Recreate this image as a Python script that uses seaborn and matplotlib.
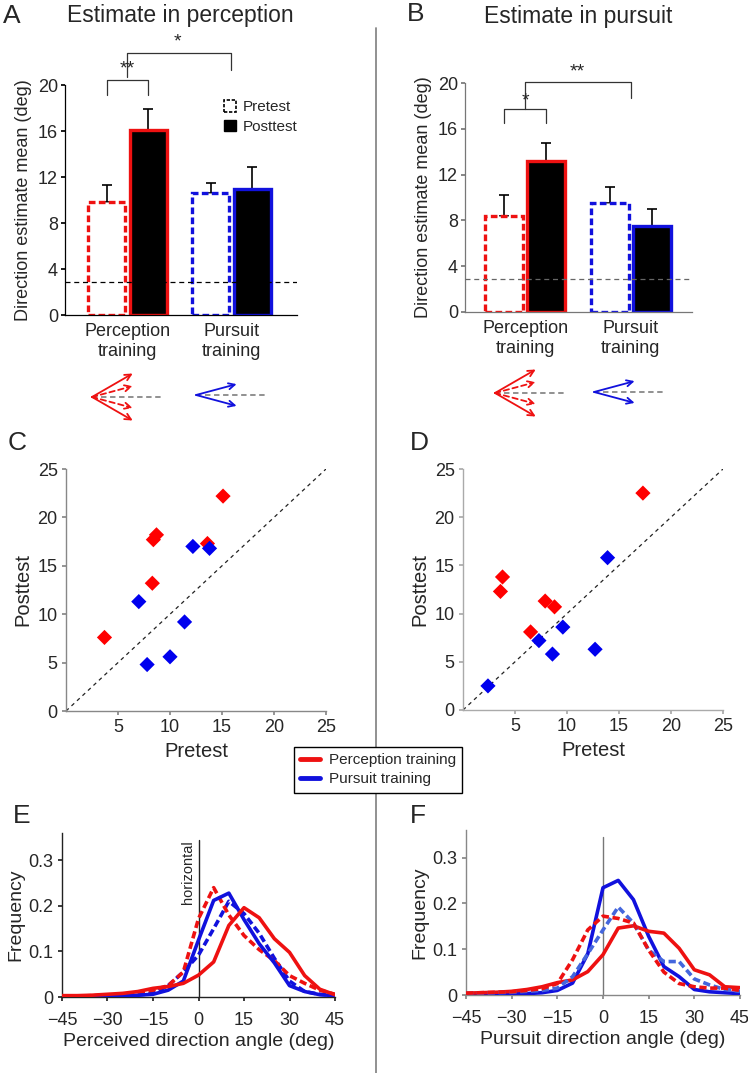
import numpy as np
import pandas as pd
import matplotlib
matplotlib.use("Agg")
import matplotlib.pyplot as plt
import seaborn as sns
from matplotlib.patches import Patch
from matplotlib.lines import Line2D

# Bar data (A: estimate in perception, B: estimate in pursuit)
trainings = ["Perception\ntraining", "Pursuit\ntraining"]
tests = ["Pretest", "Posttest"]
a_pre = [9.8, 10.6]
a_post = [16.1, 11.0]
a_pre_err = [1.5, 0.9]
a_post_err = [1.8, 1.9]
b_pre = [8.4, 9.5]
b_post = [13.2, 7.5]
b_pre_err = [1.8, 1.4]
b_post_err = [1.6, 1.5]
chance_level = 2.9

# Scatter data (C, D): pretest vs posttest per subject
c_perc_pre = [3.7, 8.3, 8.4, 8.7, 13.6, 15.1]
c_perc_post = [7.6, 13.2, 17.7, 18.2, 17.3, 22.2]
c_purs_pre = [7.0, 7.8, 10.0, 11.4, 12.2, 13.8]
c_purs_post = [11.3, 4.8, 5.6, 9.2, 17.0, 16.8]
d_perc_pre = [3.6, 3.8, 6.5, 7.9, 8.8, 17.3]
d_perc_post = [12.3, 13.8, 8.1, 11.3, 10.7, 22.5]
d_purs_pre = [2.4, 7.3, 8.6, 9.6, 12.7, 13.9]
d_purs_post = [2.5, 7.2, 5.8, 8.6, 6.3, 15.8]

# Distributions (E, F)
angles = list(range(-45, 50, 5))
e_perc_post = [.003, .003, .004, .006, .008, .012, .019, .023, .030, .048, .077, .157, .196, .174, .128, .098, .047, .017, .005]
e_perc_pre = [.002, .002, .003, .004, .006, .010, .015, .025, .055, .172, .240, .180, .135, .104, .080, .047, .030, .015, .006]
e_purs_post = [.002, .002, .002, .003, .003, .004, .006, .015, .035, .125, .212, .228, .170, .117, .075, .025, .012, .005, .003]
e_purs_pre = [.001, .001, .002, .002, .003, .004, .008, .025, .055, .092, .150, .210, .183, .140, .085, .035, .012, .006, .003]
f_perc_post = [.004, .005, .006, .008, .012, .018, .027, .033, .051, .088, .146, .151, .139, .135, .102, .055, .044, .018, .016]
f_perc_pre = [.004, .005, .006, .007, .010, .014, .025, .077, .142, .172, .167, .157, .098, .050, .025, .018, .015, .015, .010]
f_purs_post = [.002, .002, .002, .003, .003, .005, .010, .026, .090, .234, .250, .208, .128, .062, .040, .012, .007, .005, .003]
f_purs_pre = [.003, .004, .005, .006, .008, .010, .015, .040, .090, .142, .192, .157, .098, .073, .073, .035, .022, .012, .008]

# training-direction icons: arrow angles (deg)
perc_solid_angles = [30, -30]
perc_dashed_angles = [15, -15]
purs_angles = [15, -15]

RED = "#ee1111"
BLUE = "#1111dd"
LIGHTBLUE = "#4466dd"

sns.set_theme(style="white")
plt.rcParams["font.family"] = ["Liberation Sans", "DejaVu Sans"]
plt.rcParams["axes.unicode_minus"] = True

W, H = 748, 1073
fig = plt.figure(figsize=(W / 100, H / 100), dpi=100)


def box(l, t, r, b):
    return [l / W, 1 - b / H, (r - l) / W, (b - t) / H]


def bar_panel(ax, pre, post, pre_err, post_err, spine_col, dash_col):
    df = pd.DataFrame({
        "training": trainings * 2,
        "test": ["Pretest"] * 2 + ["Posttest"] * 2,
        "value": pre + post,
    })
    sns.barplot(data=df, x="training", y="value", hue="test", hue_order=tests,
                width=0.8, gap=0.1, errorbar=None, legend=False, ax=ax)
    errs = [pre_err, post_err]
    centers = {}
    bar_sets = list(ax.containers)[:2]
    for k, cont in enumerate(bar_sets):
        for i, bar in enumerate(cont):
            col = RED if i == 0 else BLUE
            if k == 0:
                bar.set_facecolor("white")
                bar.set_linestyle((0, (2, 1)))
            else:
                bar.set_facecolor("black")
            bar.set_edgecolor(col)
            bar.set_linewidth(2.4)
            bar.set_zorder(2)
            xc = bar.get_x() + bar.get_width() / 2
            h = bar.get_height()
            centers[(i, k)] = xc
            ax.errorbar([xc], [h], yerr=[[0], [errs[k][i]]], fmt="none",
                        ecolor="black", elinewidth=1.2, capsize=3.5,
                        capthick=1.2, zorder=1)
    ax.axhline(chance_level, color=dash_col, lw=0.9, ls=(0, (4, 3)), zorder=3)
    ax.set_ylim(0, 20)
    ax.set_yticks([0, 4, 8, 12, 16, 20])
    ax.set_xlabel("")
    ax.set_ylabel("Direction estimate mean (deg)", fontsize=13)
    ax.tick_params(axis="y", labelsize=13, length=3, left=True, color=spine_col, pad=2)
    ax.tick_params(axis="x", labelsize=13, length=0, pad=6)
    for s in ["top", "right"]:
        ax.spines[s].set_visible(False)
    for s in ["left", "bottom"]:
        ax.spines[s].set_color(spine_col)
        ax.spines[s].set_linewidth(0.9)
    return centers


def bracket(ax, x0, x1, ytop, yl, yr, text, ty, tx=None):
    ax.plot([x0, x0, x1, x1], [yl, ytop, ytop, yr], color="#333333", lw=0.9,
            clip_on=False)
    ax.text((x0 + x1) / 2 if tx is None else tx, ty, text, ha="center",
            va="center", fontsize=14, clip_on=False)


# ---- A ----
axA = fig.add_axes(box(65, 85, 297, 315))
cA = bar_panel(axA, a_pre, a_post, a_pre_err, a_post_err, "black", "black")
axA.set_xlim(-0.6, 1.63)
bracket(axA, cA[(0, 0)], cA[(0, 1)], 20.4, 19.1, 19.1, "**", 21.4)
bracket(axA, 0.0, 1.0, 22.8, 20.7, 21.3, "*", 23.7, tx=0.48)
axA.legend(handles=[Patch(facecolor="white", edgecolor="black", linestyle=(0, (2, 1)), lw=1.2),
                    Patch(facecolor="black", edgecolor="black")],
           labels=tests, loc="upper left", bbox_to_anchor=(0.66, 0.96),
           frameon=False, fontsize=11, handlelength=0.8, handleheight=0.8,
           handletextpad=0.4, labelspacing=0.35, borderaxespad=0)

# ---- B ----
axB = fig.add_axes(box(465, 83, 692, 312))
cB = bar_panel(axB, b_pre, b_post, b_pre_err, b_post_err, "#777777", "#666666")
axB.set_xlim(-0.57, 1.58)
bracket(axB, cB[(0, 0)], cB[(0, 1)], 17.7, 16.5, 16.5, "*", 18.4)
bracket(axB, 0.0, 1.0, 20.1, 17.7, 18.7, "**", 21.0, tx=0.49)


def scatter_panel(ax, perc_pre, perc_post, purs_pre, purs_post, spine_col):
    df = pd.DataFrame({
        "pre": perc_pre + purs_pre,
        "post": perc_post + purs_post,
        "training": ["Perception training"] * len(perc_pre) + ["Pursuit training"] * len(purs_pre),
    })
    ax.plot([0, 25], [0, 25], color="#222222", lw=0.9, ls=(0, (3, 3)), zorder=1)
    sns.scatterplot(data=df, x="pre", y="post", hue="training",
                    palette={"Perception training": "#ff0000", "Pursuit training": "#0000ee"},
                    marker="D", s=60, linewidth=0, legend=False, ax=ax, zorder=3)
    ax.set_xlim(0, 25)
    ax.set_ylim(0, 25)
    ax.set_xticks([5, 10, 15, 20, 25])
    ax.set_yticks([0, 5, 10, 15, 20, 25])
    ax.set_xlabel("Pretest", fontsize=14.5, labelpad=4)
    ax.set_ylabel("Posttest", fontsize=14.5, labelpad=4)
    ax.tick_params(labelsize=13, length=3, left=True, bottom=True, color=spine_col, pad=3)
    for s in ["top", "right"]:
        ax.spines[s].set_visible(False)
    for s in ["left", "bottom"]:
        ax.spines[s].set_color(spine_col)
        ax.spines[s].set_linewidth(1.0)


axC = fig.add_axes(box(66, 469, 326, 711))
scatter_panel(axC, c_perc_pre, c_perc_post, c_purs_pre, c_purs_post, "#888888")
axD = fig.add_axes(box(463, 469, 723, 710))
scatter_panel(axD, d_perc_pre, d_perc_post, d_purs_pre, d_purs_post, "#aaaaaa")


def dist_panel(ax, curves, xlabel, spine_col, zero_col):
    ax.plot([0, 0], [0, 0.345], color=zero_col, lw=1.0, zorder=1)
    for vals, col, dashed in curves:
        df = pd.DataFrame({"angle": angles, "freq": vals})
        sns.lineplot(data=df, x="angle", y="freq", color=col, lw=2.6,
                     linestyle=(0, (2, 1)) if dashed else "-", ax=ax, zorder=3)
    ax.set_xlim(-45, 45)
    ax.set_ylim(0, 0.36)
    ax.set_xticks([-45, -30, -15, 0, 15, 30, 45])
    ax.set_yticks([0, 0.1, 0.2, 0.3])
    ax.set_yticklabels(["0", "0.1", "0.2", "0.3"])
    ax.set_xlabel(xlabel, fontsize=14, labelpad=3)
    ax.set_ylabel("Frequency", fontsize=14, labelpad=3)
    ax.tick_params(axis="y", labelsize=13, length=3, left=True, color=spine_col, pad=3)
    ax.tick_params(axis="x", labelsize=13, length=3, bottom=True, color=spine_col, pad=8)
    for s in ["top", "right"]:
        ax.spines[s].set_visible(False)
    for s in ["left", "bottom"]:
        ax.spines[s].set_color(spine_col)
        ax.spines[s].set_linewidth(1.0)


axE = fig.add_axes(box(62, 833, 335, 997))
dist_panel(axE, [(e_purs_pre, BLUE, True), (e_perc_pre, RED, True),
                 (e_purs_post, BLUE, False), (e_perc_post, RED, False)],
           "Perceived direction angle (deg)", "#222222", "#222222")
axE.text(-1.2, 0.345, "horizontal", rotation=90, ha="right", va="top", fontsize=10.5)

axF = fig.add_axes(box(466, 830, 740, 995))
dist_panel(axF, [(f_purs_post, BLUE, False), (f_perc_post, RED, False),
                 (f_purs_pre, LIGHTBLUE, True), (f_perc_pre, RED, True)],
           "Pursuit direction angle (deg)", "#888888", "#777777")

# shared legend
fig.legend(handles=[Line2D([], [], color=RED, lw=3.5), Line2D([], [], color=BLUE, lw=3.5)],
           labels=["Perception training", "Pursuit training"],
           loc="upper left", bbox_to_anchor=(294 / W, 1 - 747 / H),
           fontsize=11, frameon=True, fancybox=False, edgecolor="black",
           framealpha=1, handlelength=1.3, handletextpad=0.6,
           borderpad=0.4, labelspacing=0.35, borderaxespad=0)

# overlay for divider, panel letters and direction icons
ov = fig.add_axes([0, 0, 1, 1])
ov.set_xlim(0, W)
ov.set_ylim(H, 0)
ov.axis("off")
ov.patch.set_alpha(0)
ov.plot([376, 376], [28, H], color="#888888", lw=1.3)


def fan(apex, angles_deg, length, col, dashed):
    for a in angles_deg:
        r = np.deg2rad(a)
        end = (apex[0] + length * np.cos(r), apex[1] - length * np.sin(r))
        ov.annotate("", xy=end, xytext=apex,
                    arrowprops=dict(arrowstyle="->", color=col, lw=1.3,
                                    linestyle=(0, (3, 2)) if dashed else "-",
                                    shrinkA=0, shrinkB=0, mutation_scale=11))


def icon_perc(apex):
    ov.plot([apex[0], apex[0] + 71], [apex[1], apex[1]], color="#888888", lw=1.3,
            ls=(0, (3, 2)))
    fan(apex, perc_solid_angles, 47, RED, False)
    fan(apex, perc_dashed_angles, 42, RED, True)


def icon_purs(apex):
    ov.plot([apex[0], apex[0] + 72], [apex[1], apex[1]], color="#888888", lw=1.3,
            ls=(0, (3, 2)))
    fan(apex, purs_angles, 42, BLUE, False)


icon_perc((92, 397))
icon_purs((196, 395))
icon_perc((495, 393))
icon_purs((594, 392))

for txt, x, y in [("A", 3, 23), ("B", 407, 21), ("C", 8, 450), ("D", 410, 450),
                  ("E", 13, 823), ("F", 410, 823)]:
    ov.text(x, y, txt, fontsize=19, ha="left", va="baseline")
ov.text(180, 22, "Estimate in perception", fontsize=16.5, ha="center", va="baseline")
ov.text(578, 23, "Estimate in pursuit", fontsize=16.5, ha="center", va="baseline")

fig.savefig("out.png", dpi=100)
